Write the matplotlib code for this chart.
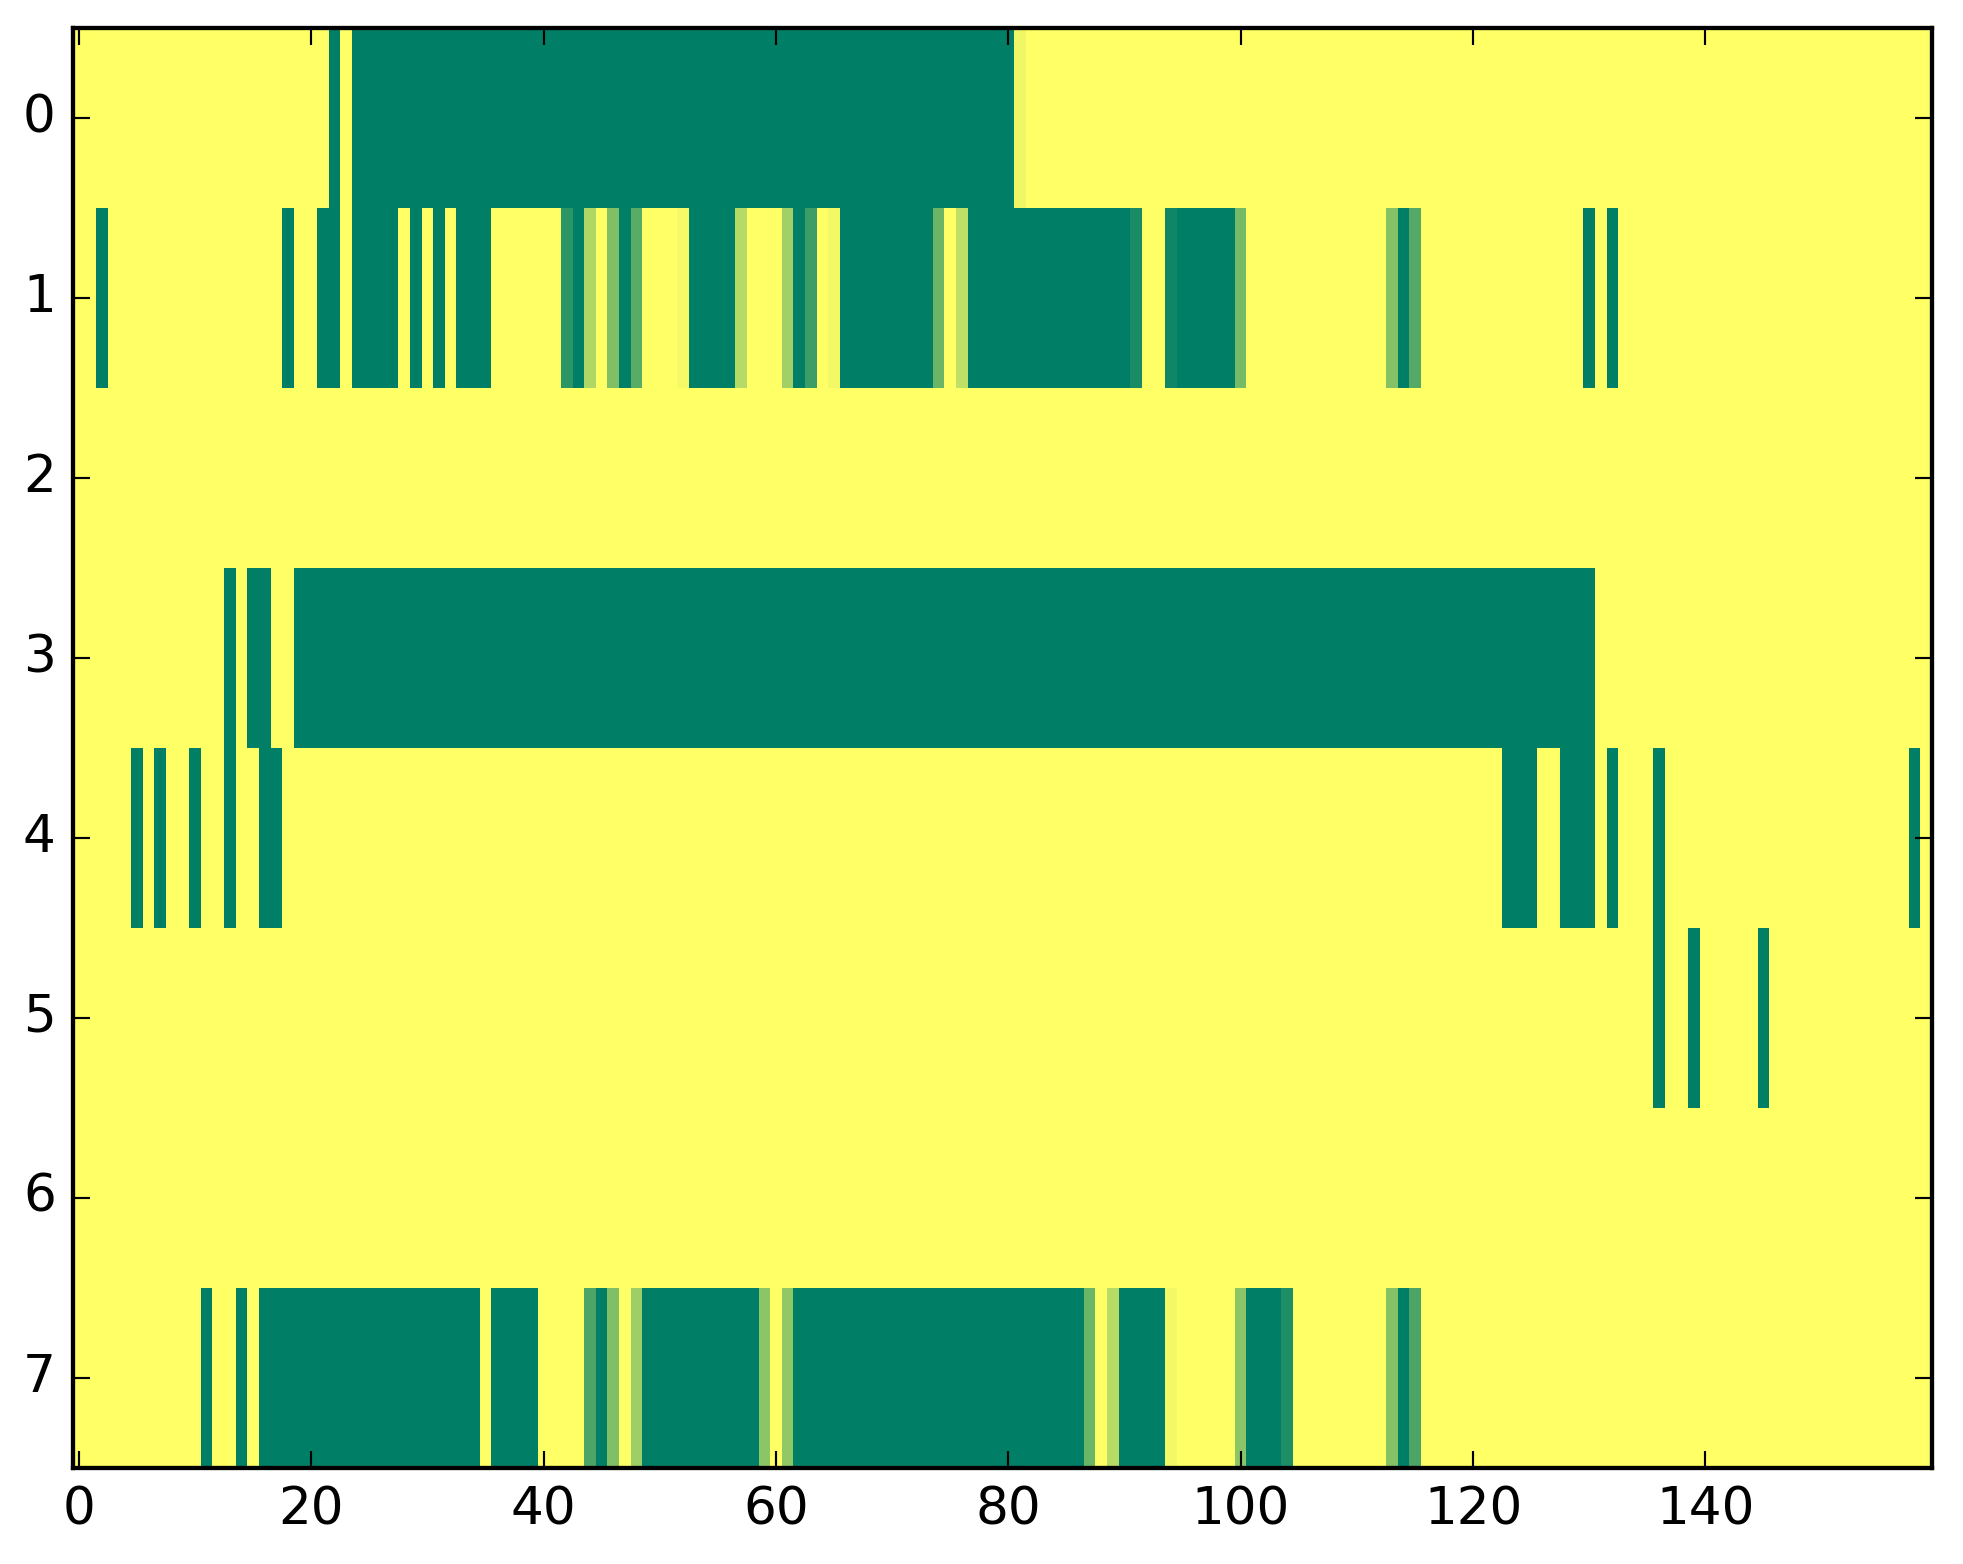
import numpy as np
import matplotlib
matplotlib.use('Agg')
from matplotlib import pyplot as plt

n_cols = 160

# cells that are not 1.0, as (first_col, last_col, value) per row
row0 = [(22, 22, 0), (24, 80, 0), (81, 81, 0.94)]
row1 = [(2, 2, 0), (18, 18, 0), (21, 22, 0), (24, 27, 0), (29, 29, 0), (31, 31, 0),
        (33, 35, 0), (42, 42, 0.17), (43, 43, 0), (44, 44, 0.69), (46, 46, 0.5),
        (47, 47, 0), (48, 48, 0.35), (52, 52, 0.96), (53, 56, 0), (57, 57, 0.71),
        (61, 61, 0.63), (62, 62, 0), (63, 63, 0.24), (65, 65, 0.95), (66, 73, 0),
        (74, 74, 0.42), (76, 76, 0.75), (77, 90, 0), (91, 91, 0.1), (94, 94, 0.06),
        (95, 99, 0), (100, 100, 0.46), (113, 113, 0.52), (114, 114, 0),
        (115, 115, 0.33), (130, 130, 0), (132, 132, 0)]
row2 = []
row3 = [(13, 13, 0), (15, 16, 0), (19, 130, 0)]
row4 = [(5, 5, 0), (7, 7, 0), (10, 10, 0), (13, 13, 0), (16, 17, 0), (123, 125, 0),
        (128, 130, 0), (132, 132, 0), (136, 136, 0), (158, 158, 0)]
row5 = [(136, 136, 0), (139, 139, 0), (145, 145, 0)]
row6 = []
row7 = [(11, 11, 0), (14, 14, 0), (16, 34, 0), (36, 39, 0), (44, 44, 0.3), (45, 45, 0),
        (46, 46, 0.5), (48, 48, 0.62), (49, 58, 0), (59, 59, 0.55), (61, 61, 0.57),
        (62, 86, 0), (87, 87, 0.42), (89, 89, 0.72), (90, 93, 0), (94, 94, 0.95),
        (100, 100, 0.55), (101, 103, 0), (104, 104, 0.12), (113, 113, 0.52),
        (114, 114, 0), (115, 115, 0.3)]

rows = [row0, row1, row2, row3, row4, row5, row6, row7]

grid = np.ones((len(rows), n_cols))
for i, runs in enumerate(rows):
    for a, b, v in runs:
        grid[i, a:b + 1] = v

plt.style.use('classic')
plt.rcParams['figure.facecolor'] = 'white'
plt.rcParams['savefig.facecolor'] = 'white'

dpi = 310
fig = plt.figure(figsize=(1963 / dpi, 1564 / dpi), dpi=dpi)
ax = fig.add_axes([73 / 1963, 1 - 1468 / 1564, (1932 - 73) / 1963, (1468 - 28) / 1564])
ax.imshow(grid, cmap='summer', vmin=0, vmax=1, aspect='auto', interpolation='nearest')
ax.set_xticks(np.arange(0, 141, 20))
ax.set_yticks(np.arange(0, 8))

fig.savefig('out.png', dpi=dpi)
